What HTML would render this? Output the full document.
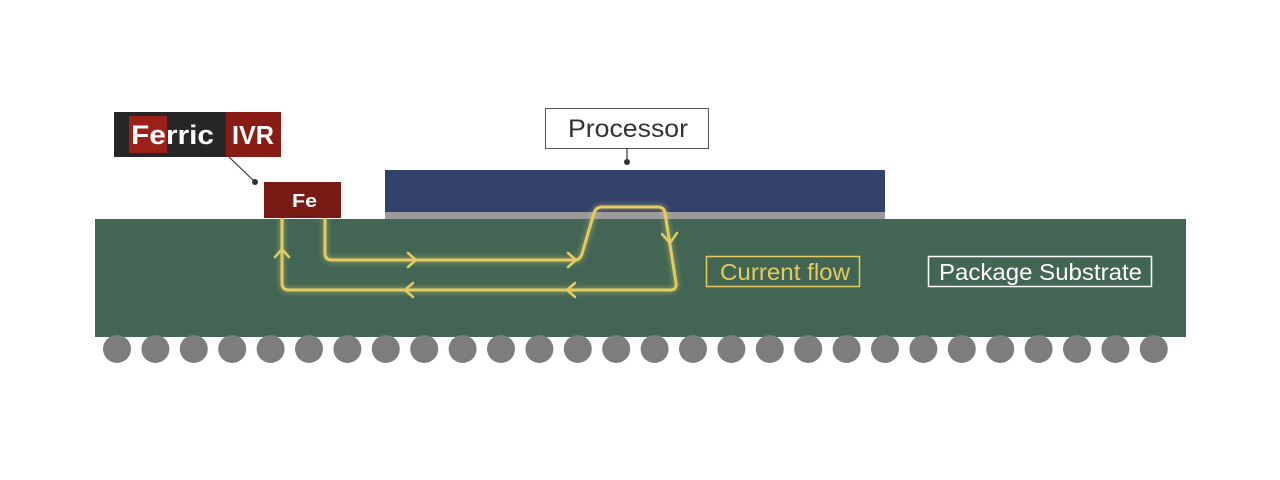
<!DOCTYPE html>
<html><head><meta charset="utf-8"><style>
body{margin:0;background:#fff;width:1280px;height:475px;overflow:hidden;font-family:"Liberation Sans",sans-serif}
</style></head><body>
<svg width="1280" height="475" xmlns="http://www.w3.org/2000/svg">
<defs><filter id="g" x="-10%" y="-20%" width="120%" height="140%"><feGaussianBlur stdDeviation="2.5"/></filter></defs>
<rect x="95" y="219" width="1091" height="118" fill="#436654"/>
<rect x="385" y="170" width="500" height="42" fill="#33426a"/>
<rect x="385" y="212" width="500" height="7" fill="#9a9a9a"/>
<g fill="#7d7d7d">
<circle cx="117" cy="349" r="14"/><circle cx="155.4" cy="349" r="14"/><circle cx="193.8" cy="349" r="14"/><circle cx="232.2" cy="349" r="14"/><circle cx="270.6" cy="349" r="14"/><circle cx="309" cy="349" r="14"/><circle cx="347.4" cy="349" r="14"/><circle cx="385.8" cy="349" r="14"/><circle cx="424.2" cy="349" r="14"/><circle cx="462.6" cy="349" r="14"/><circle cx="501" cy="349" r="14"/><circle cx="539.4" cy="349" r="14"/><circle cx="577.8" cy="349" r="14"/><circle cx="616.2" cy="349" r="14"/><circle cx="654.6" cy="349" r="14"/><circle cx="693" cy="349" r="14"/><circle cx="731.4" cy="349" r="14"/><circle cx="769.8" cy="349" r="14"/><circle cx="808.2" cy="349" r="14"/><circle cx="846.6" cy="349" r="14"/><circle cx="885" cy="349" r="14"/><circle cx="923.4" cy="349" r="14"/><circle cx="961.8" cy="349" r="14"/><circle cx="1000.2" cy="349" r="14"/><circle cx="1038.6" cy="349" r="14"/><circle cx="1077" cy="349" r="14"/><circle cx="1115.4" cy="349" r="14"/><circle cx="1153.8" cy="349" r="14"/>
</g>
<g fill="none" stroke-linecap="round" stroke-linejoin="round">
<path d="M325 219 V253 Q325 260 332 260 H575 Q580 260 582 254 L594 213 Q596 207 602 207 H658 Q664 207 665 213 L676 283 Q677 290 670 290 H289 Q282 290 282 283 V219" stroke="#e8d36a" stroke-width="6" opacity="0.35" filter="url(#g)"/>
<path d="M325 219 V253 Q325 260 332 260 H575 Q580 260 582 254 L594 213 Q596 207 602 207 H658 Q664 207 665 213 L676 283 Q677 290 670 290 H289 Q282 290 282 283 V219" stroke="#e3cb62" stroke-width="3"/>
<g stroke="#e3cb62" stroke-width="2.5">
<path d="M408 253 L416 260 L408 267"/><path d="M568 253 L576 260 L568 267"/>
<path d="M413 283 L405 290 L413 297"/><path d="M575 283 L567 290 L575 297"/>
<path d="M275 257 L282 249 L289 257"/><path d="M662 234 L670 243 L677 233"/>
</g></g>
<rect x="264" y="182" width="77" height="36" fill="#7a1a14"/>
<text x="292" y="207" font-size="18" font-weight="bold" fill="#fff" textLength="25" lengthAdjust="spacingAndGlyphs">Fe</text>
<rect x="114" y="112" width="112" height="45" fill="#262626"/>
<rect x="226" y="112" width="55" height="45" fill="#8a1c16"/>
<rect x="129" y="116" width="38" height="37" fill="#9a2019"/>
<text x="131" y="144" font-size="27" font-weight="bold" fill="#fff" textLength="83" lengthAdjust="spacingAndGlyphs">Ferric</text>
<text x="232" y="144" font-size="26" font-weight="bold" fill="#fff" textLength="42" lengthAdjust="spacingAndGlyphs">IVR</text>
<line x1="229" y1="157" x2="254" y2="181" stroke="#333" stroke-width="1.2"/>
<circle cx="255" cy="182" r="3" fill="#333"/>
<rect x="545.5" y="108.5" width="163" height="40" fill="#fff" stroke="#555"/>
<text x="568" y="137" font-size="25" fill="#333" textLength="120" lengthAdjust="spacingAndGlyphs">Processor</text>
<line x1="627" y1="148" x2="627" y2="162" stroke="#333" stroke-width="1.2"/>
<circle cx="627" cy="162" r="3" fill="#333"/>
<rect x="706.5" y="256.5" width="153" height="30" fill="none" stroke="#e3cb62" stroke-width="1.5"/>
<text x="720" y="280" font-size="23" fill="#e3cb62" textLength="130" lengthAdjust="spacingAndGlyphs">Current flow</text>
<rect x="928.5" y="256.5" width="223" height="30" fill="none" stroke="#fff" stroke-width="1.5"/>
<text x="939" y="280" font-size="23" fill="#fff" textLength="203" lengthAdjust="spacingAndGlyphs">Package Substrate</text>
</svg>
</body></html>
